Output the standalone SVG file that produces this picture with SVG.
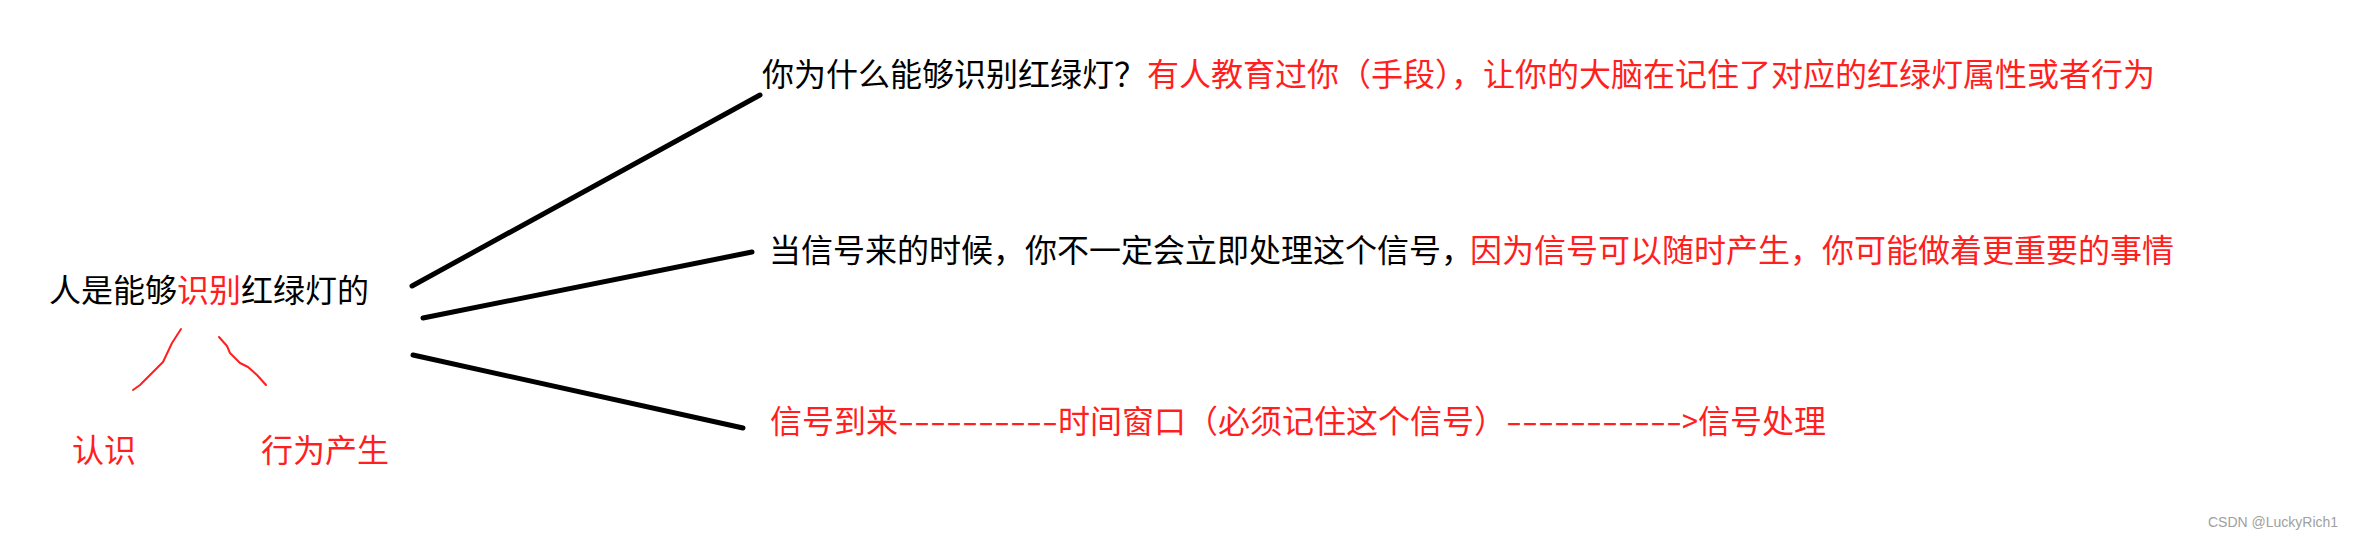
<svg xmlns="http://www.w3.org/2000/svg" width="2362" height="539" viewBox="0 0 2362 539">
  <style>
    .t { font-family: "Noto Sans CJK SC", "Noto Sans", sans-serif; font-size: 32px; }
    .k { fill: #000000; }
    .r { fill: #ff1f1f; }
    .edge { stroke: #000000; stroke-width: 5; stroke-linecap: round; fill: none; }
    .red { stroke: #ff1f1f; stroke-width: 2; stroke-linecap: round; stroke-linejoin: round; fill: none; }
    .wm { font-family: "Liberation Sans", Arial, sans-serif; font-size: 14px; fill: #a0a0a0; }
  </style>
  <rect width="2362" height="539" fill="#ffffff"/>

  <g id="connectors">
    <line class="edge" x1="412" y1="286" x2="760" y2="95"/>
    <line class="edge" x1="423" y1="318" x2="752" y2="252"/>
    <line class="edge" x1="413" y1="355" x2="743" y2="428"/>
    <polyline class="red" points="181,329 172,343 163,362 153,372 140,385 133,390"/>
    <polyline class="red" points="219,337 227,346 230,353 240,363 248,367 257,375 266,385"/>
  </g>

  <g id="node-root">
    <text class="t k" x="49" y="302">人是能够<tspan class="r">识别</tspan>红绿灯的</text>
  </g>

  <g id="node-recognize">
    <text class="t r" x="72" y="462">认识</text>
  </g>

  <g id="node-behavior">
    <text class="t r" x="261" y="462">行为产生</text>
  </g>

  <g id="node-why">
    <text class="t k" x="762" y="86">你为什么能够识别红绿灯？<tspan class="r" x="1147">有人教育过你（手段），让你的大脑在记住了对应的红绿灯属性或者行为</tspan></text>
  </g>

  <g id="node-when">
    <text class="t k" x="769" y="262">当信号来的时候，你不一定会立即处理这个信号，<tspan class="r" x="1470">因为信号可以随时产生，你可能做着更重要的事情</tspan></text>
  </g>

  <g id="node-flow">
    <text class="t r" y="433"><tspan x="770">信号到来</tspan><tspan x="898" textLength="160" lengthAdjust="spacingAndGlyphs">----------</tspan><tspan x="1058">时间窗口（必须记住这个信号）</tspan><tspan x="1506" textLength="176" lengthAdjust="spacingAndGlyphs">-----------</tspan><tspan x="1682" textLength="16" lengthAdjust="spacingAndGlyphs">&gt;</tspan><tspan x="1698">信号处理</tspan></text>
  </g>

  <text class="wm" x="2208" y="527">CSDN @LuckyRich1</text>
</svg>
